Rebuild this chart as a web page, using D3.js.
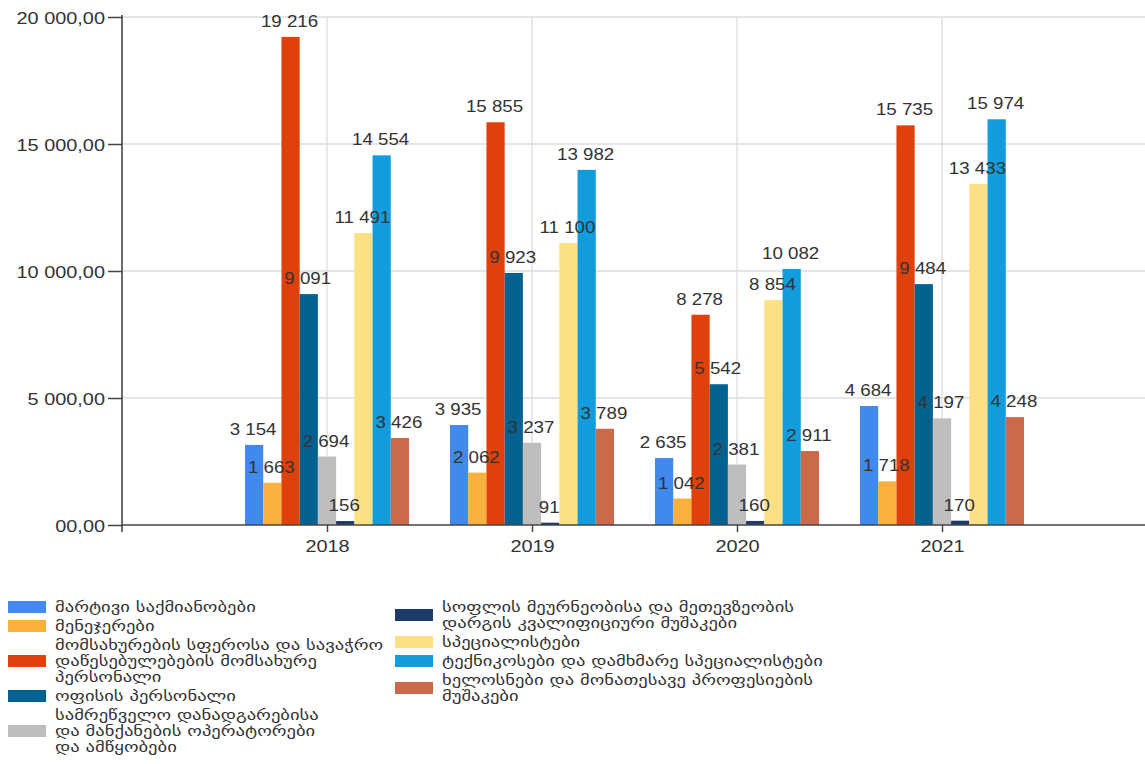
<!DOCTYPE html>
<html>
<head>
<meta charset="utf-8">
<script src="https://cdn.jsdelivr.net/npm/d3@7"></script>
<style>
  html, body { margin: 0; padding: 0; background: #fff; }
  svg { display: block; }
</style>
</head>
<body>
<svg id="chart" width="1145" height="764"></svg>
<script>
// ---- data ----
const years = ["2018", "2019", "2020", "2021"];

const seriesKeys = ["s1", "s2", "s3", "s4", "s5", "s6", "s7", "s8", "s9"];

const seriesNames = [
  "მარტივი საქმიანობები",
  "მენეჯერები",
  "მომსახურების სფეროსა და სავაჭრო დაწესებულებების მომსახურე პერსონალი",
  "ოფისის პერსონალი",
  "სამრეწველო დანადგარებისა და მანქანების ოპერატორები და ამწყობები",
  "სოფლის მეურნეობისა და მეთევზეობის დარგის კვალიფიციური მუშაკები",
  "სპეციალისტები",
  "ტექნიკოსები და დამხმარე სპეციალისტები",
  "ხელოსნები და მონათესავე პროფესიების მუშაკები"
];

const legendLines = [
  ["მარტივი საქმიანობები"],
  ["მენეჯერები"],
  ["მომსახურების სფეროსა და სავაჭრო", "დაწესებულებების მომსახურე", "პერსონალი"],
  ["ოფისის პერსონალი"],
  ["სამრეწველო დანადგარებისა", "და მანქანების ოპერატორები", "და ამწყობები"],
  ["სოფლის მეურნეობისა და მეთევზეობის", "დარგის კვალიფიციური მუშაკები"],
  ["სპეციალისტები"],
  ["ტექნიკოსები და დამხმარე სპეციალისტები"],
  ["ხელოსნები და მონათესავე პროფესიების", "მუშაკები"]
];

const elementary   = [3154, 3935, 2635, 4684];
const managers     = [1663, 2062, 1042, 1718];
const serviceSales = [19216, 15855, 8278, 15735];
const clerical     = [9091, 9923, 5542, 9484];
const operators    = [2694, 3237, 2381, 4197];
const agriculture  = [156, 91, 160, 170];
const specialists  = [11491, 11100, 8854, 13433];
const technicians  = [14554, 13982, 10082, 15974];
const craft        = [3426, 3789, 2911, 4248];

const seriesValues = [elementary, managers, serviceSales, clerical, operators,
                      agriculture, specialists, technicians, craft];

const colors = ["#4189EC", "#F9B03C", "#E0410B", "#046290", "#BEBEBE",
                "#1C3A6A", "#FEE084", "#119CDE", "#CA6A4B"];

const yTickValues = [0, 5000, 10000, 15000, 20000];
const yTickLabels = ["00,00", "5 000,00", "10 000,00", "15 000,00", "20 000,00"];

// ---- layout ----
(function () {
const svg = d3.select("#chart");
const pLeft = 122, pRight = 1145, pTop = 17, pBottom = 525;
const step = (pRight + 2 - pLeft) / 5;
const stretch = 1.17;

const x = d3.scalePoint().domain(years).range([pLeft + step, pLeft + 4 * step]);
const inner = d3.scaleBand().domain(seriesKeys).range([-0.4 * step, 0.4 * step]).padding(0);
const y = d3.scaleLinear().domain([0, 20000]).range([pBottom, pTop]);

const nf = d3.formatLocale({ decimal: ",", thousands: " ", grouping: [3], currency: ["", ""] }).format(",d");

// gridlines
svg.append("g").selectAll("line").data(yTickValues.filter(d => d > 0)).join("line")
  .attr("x1", pLeft).attr("x2", pRight)
  .attr("y1", d => y(d)).attr("y2", d => y(d))
  .attr("stroke", "#dcdcdc").attr("stroke-width", 1.3);
svg.append("g").selectAll("line").data(years).join("line")
  .attr("x1", d => x(d)).attr("x2", d => x(d))
  .attr("y1", pTop).attr("y2", pBottom)
  .attr("stroke", "#dcdcdc").attr("stroke-width", 1.3);

// bars
const rows = [];
seriesKeys.forEach((k, si) => {
  years.forEach((yr, yi) => rows.push({ key: k, si, year: yr, value: seriesValues[si][yi] }));
});

svg.append("g").selectAll("rect").data(rows).join("rect")
  .attr("x", d => x(d.year) + inner(d.key))
  .attr("width", inner.bandwidth())
  .attr("y", d => y(d.value))
  .attr("height", d => y(0) - y(d.value))
  .attr("fill", d => colors[d.si]);

// x axis
const xAxis = svg.append("g").attr("transform", `translate(0,${pBottom})`)
  .call(d3.axisBottom(x).tickSize(7).tickPadding(6));
xAxis.select(".domain").remove();
xAxis.selectAll(".tick line").attr("stroke", "#444").attr("stroke-width", 1.5);
xAxis.selectAll(".tick text")
  .attr("fill", "#333")
  .style("font-family", "'Liberation Sans', Arial, sans-serif")
  .style("font-size", "17px")
  .attr("y", null).attr("dy", null)
  .attr("transform", `translate(0,27) scale(${stretch},1)`);
svg.append("line").attr("x1", pLeft).attr("x2", pRight)
  .attr("y1", pBottom).attr("y2", pBottom)
  .attr("stroke", "#444").attr("stroke-width", 1.5);

// y axis
const yAxis = svg.append("g").attr("transform", `translate(${pLeft},0)`)
  .call(d3.axisLeft(y).tickValues(yTickValues).tickFormat((d, i) => yTickLabels[i]).tickSize(14).tickPadding(3));
yAxis.select(".domain").remove();
yAxis.selectAll(".tick line").attr("stroke", "#444").attr("stroke-width", 1.5);
yAxis.selectAll(".tick text")
  .attr("fill", "#333")
  .style("font-family", "'Liberation Sans', Arial, sans-serif")
  .style("font-size", "17px")
  .attr("x", null).attr("dy", null)
  .attr("transform", `translate(-17,6) scale(${stretch},1)`);
svg.append("line").attr("x1", pLeft).attr("x2", pLeft)
  .attr("y1", pTop - 2).attr("y2", pBottom + 7)
  .attr("stroke", "#444").attr("stroke-width", 1.6);

// value labels (drawn above all bars)
svg.append("g").selectAll("text").data(rows).join("text")
  .attr("transform", d => `translate(${x(d.year) + inner(d.key) + inner.bandwidth() / 2 - 1},${y(d.value) - 10}) scale(${stretch},1)`)
  .attr("text-anchor", "middle")
  .attr("fill", "#333")
  .style("font-family", "'Liberation Sans', Arial, sans-serif")
  .style("font-size", "16px")
  .text(d => nf(d.value));

// legend
const lineH = 16, pad = 3;
const legendStretch = 1.24;
const columns = [
  { x: 8, items: [0, 1, 2, 3, 4] },
  { x: 395, items: [5, 6, 7, 8] }
];
const legend = svg.append("g");
columns.forEach(col => {
  let cy = 597.5;
  col.items.forEach(i => {
    const lines = legendLines[i];
    const h = lines.length * lineH + pad;
    const mid = cy + h / 2;
    const g = legend.append("g").attr("class", "legend-item").attr("data-name", seriesNames[i]);
    g.append("rect")
      .attr("x", col.x).attr("y", mid - 6)
      .attr("width", 38).attr("height", 12)
      .attr("fill", colors[i]);
    const t = g.append("text")
      .attr("transform", `translate(${col.x + 47},0) scale(${legendStretch},1)`)
      .attr("fill", "#333")
      .style("font-family", "'DejaVu Sans', sans-serif")
      .style("font-size", "15px");
    lines.forEach((ln, li) => {
      t.append("tspan")
        .attr("x", 0)
        .attr("y", mid - (lines.length - 1) * lineH / 2 + li * lineH + 5)
        .text(ln);
    });
    cy += h;
  });
});
})();
</script>
</body>
</html>
